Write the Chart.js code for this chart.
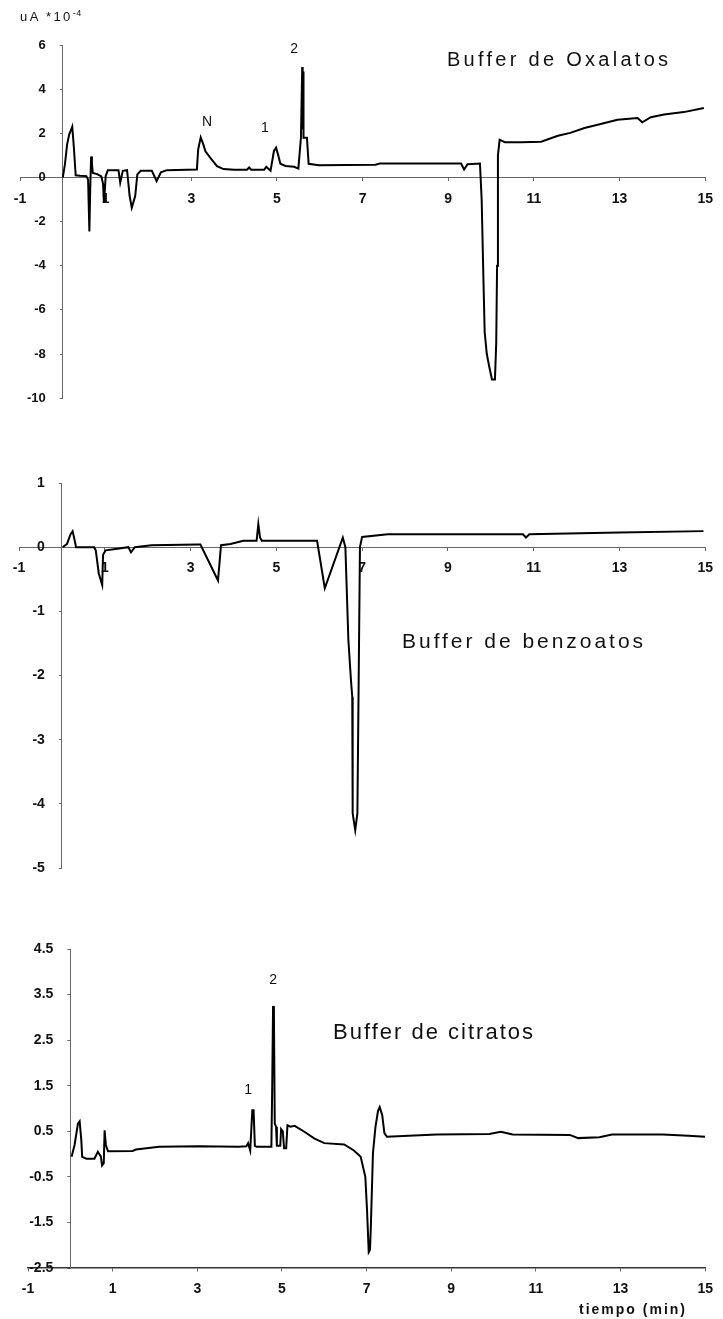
<!DOCTYPE html>
<html><head><meta charset="utf-8">
<script src="https://cdn.jsdelivr.net/npm/chart.js@4.4.1/dist/chart.umd.min.js"></script>
<style>
html,body{margin:0;padding:0;background:#fff;}
body{width:723px;height:1319px;position:relative;overflow:hidden;font-family:"Liberation Sans",Arial,sans-serif;}
canvas{position:absolute;left:0;}
.lbl{position:absolute;white-space:nowrap;color:#111;line-height:1;z-index:2;}
</style></head><body>
<canvas id="c1" width="723" height="420" style="top:0px"></canvas>
<canvas id="c2" width="723" height="480" style="top:420px"></canvas>
<canvas id="c3" width="723" height="419" style="top:900px"></canvas>
<div class="lbl" style="left:20px;top:10px;font-size:13px;letter-spacing:2.4px;">uA *10<sup style="font-size:9px;vertical-align:5px;line-height:0;letter-spacing:0.5px">-4</sup></div>
<div class="lbl fit" data-w="221" style="left:447px;top:49px;font-size:20px;">Buffer de Oxalatos</div>
<div class="lbl fit" data-w="241" style="left:402px;top:630px;font-size:21px;">Buffer de benzoatos</div>
<div class="lbl fit" data-w="200" style="left:333px;top:1021px;font-size:22px;">Buffer de citratos</div>
<div class="lbl fit" data-w="106" style="left:579px;top:1302px;font-size:14px;font-weight:bold;">tiempo (min)</div>
<script>
// ---------- data ----------
const timeTicks = [-1, 1, 3, 5, 7, 9, 11, 13, 15];

const oxYTicks = [-10, -8, -6, -4, -2, 0, 2, 4, 6];
const oxTime = [
  0, 0.05, 0.1, 0.15, 0.18, 0.22, 0.26, 0.3, 0.4, 0.55,
  0.59, 0.62, 0.64, 0.66, 0.68, 0.7, 0.8, 0.9, 0.94, 0.96,
  0.98, 1.0, 1.05, 1.3, 1.34, 1.4, 1.5, 1.56, 1.61, 1.69,
  1.74, 1.82, 2.08, 2.19, 2.29, 2.43, 3.13, 3.16, 3.22, 3.28,
  3.33, 3.45, 3.6, 3.75, 4.0, 4.3, 4.35, 4.4, 4.7, 4.75,
  4.85, 4.93, 4.98, 5.03, 5.08, 5.2, 5.4, 5.5, 5.56, 5.59,
  5.6, 5.61, 5.62, 5.65, 5.7, 5.74, 5.98, 7.3, 7.4, 9.3,
  9.37, 9.45, 9.74, 9.78, 9.82, 9.85, 9.9, 9.96, 10.02, 10.09,
  10.12, 10.14, 10.16, 10.2, 10.32, 10.7, 11.17, 11.56, 11.85, 12.18,
  12.49, 12.95, 13.42, 13.53, 13.73, 14.04, 14.5, 14.97
];
const oxSignal = [
  0, 0.6, 1.5, 1.95, 2.1, 2.3, 1.3, 0.1, 0.08, 0.06,
  -0.1, -2.45, -0.5, 0.95, 0.6, 0.2, 0.15, 0.05, -0.3, -1.15,
  -0.6, 0.06, 0.33, 0.33, -0.24, 0.3, 0.33, -0.84, -1.37, -0.84,
  0.14, 0.3, 0.3, -0.17, 0.23, 0.33, 0.36, 1.26, 1.82, 1.5,
  1.18, 0.88, 0.51, 0.38, 0.35, 0.35, 0.45, 0.35, 0.35, 0.48,
  0.3, 1.2, 1.35, 1.0, 0.62, 0.52, 0.48, 0.4, 1.8, 5.0,
  2.2, 4.8, 1.8, 1.8, 1.8, 0.62, 0.55, 0.58, 0.63, 0.63,
  0.36, 0.6, 0.63, -1.0, -4.5, -7.0, -8.0, -8.6, -9.15, -9.15,
  -7.5, -4.0, 1.0, 1.71, 1.6, 1.6, 1.62, 1.89, 2.02, 2.24,
  2.39, 2.61, 2.69, 2.5, 2.73, 2.85, 2.96, 3.15
];
const oxPeakNames = ['N', '1', '2'];
const oxPeakTime = [3.37, 4.72, 5.4];
const oxPeakSignal = [2.52, 2.25, 5.8];

const bzYTicks = [-5, -4, -3, -2, -1, 0, 1];
const bzTime = [
  0.02, 0.12, 0.2, 0.25, 0.3, 0.33, 0.75, 0.79, 0.86, 0.94,
  0.96, 1.02, 1.25, 1.55, 1.61, 1.7, 2.09, 3.16, 3.23, 3.64,
  3.71, 3.93, 4.23, 4.54, 4.58, 4.62, 4.66, 5.95, 6.13, 6.55,
  6.61, 6.68, 6.74, 6.77, 6.78, 6.84, 6.89, 6.92, 6.95, 7.0,
  7.6, 10.75, 10.82, 10.9, 13.0, 14.96
];
const bzSignal = [
  0.0, 0.05, 0.2, 0.25, 0.1, 0.0, 0.0, -0.05, -0.41, -0.59,
  -0.12, -0.05, -0.03, 0.0, -0.08, 0.0, 0.03, 0.04, 0.04, -0.52,
  0.03, 0.05, 0.1, 0.1, 0.36, 0.15, 0.1, 0.1, -0.64, 0.15,
  0.0, -1.45, -2.07, -2.33, -4.15, -4.41, -4.15, -2.07, 0.0, 0.16,
  0.2, 0.2, 0.15, 0.2, 0.23, 0.25
];

const ciYTicks = [-2.5, -1.5, -0.5, 0.5, 1.5, 2.5, 3.5, 4.5];
const ciTime = [
  0.03, 0.1, 0.18, 0.22, 0.26, 0.28, 0.38, 0.57, 0.65, 0.72,
  0.75, 0.79, 0.81, 0.84, 0.89, 1.47, 1.55, 2.1, 3.03, 3.97,
  4.16, 4.2, 4.25, 4.3, 4.33, 4.36, 4.4, 4.75, 4.77, 4.79,
  4.81, 4.83, 4.86, 4.88, 4.96, 4.98, 5.02, 5.05, 5.1, 5.13,
  5.2, 5.3, 5.53, 5.77, 6.0, 6.47, 6.7, 6.86, 6.97, 7.01,
  7.05, 7.08, 7.1, 7.15, 7.21, 7.27, 7.31, 7.37, 7.42, 7.48,
  8.65, 9.9, 10.17, 10.45, 11.8, 12.0, 12.5, 12.8, 14.0, 14.6,
  15.0
];
const ciSignal = [
  -0.06, 0.2, 0.67, 0.72, 0.3, -0.06, -0.1, -0.1, 0.05, -0.05,
  -0.25, -0.2, 0.52, 0.2, 0.06, 0.07, 0.1, 0.16, 0.17, 0.16,
  0.17, 0.24, 0.08, 0.96, 0.96, 0.18, 0.16, 0.16, 1.5, 3.25,
  3.1, 0.67, 0.6, 0.18, 0.18, 0.55, 0.5, 0.13, 0.13, 0.63,
  0.6, 0.62, 0.49, 0.34, 0.24, 0.21, 0.08, -0.06, -0.5, -1.23,
  -2.15, -2.1, -1.6, 0.02, 0.6, 0.95, 1.03, 0.85, 0.46, 0.38,
  0.43, 0.44, 0.49, 0.43, 0.42, 0.35, 0.37, 0.43, 0.43, 0.4,
  0.38
];
const ciPeakNames = ['1', '2'];
const ciPeakTime = [4.2, 4.79];
const ciPeakSignal = [1.4, 3.81];

// ---------- drawing ----------
const FONT = '"Liberation Sans", Arial, sans-serif';

const peakLabels = {
  id: 'peakLabels',
  afterDatasetsDraw(chart, args, opts) {
    if (!opts.names) return;
    const {ctx} = chart;
    const xs = chart.scales.x, ys = chart.scales.y;
    ctx.save();
    ctx.font = '14px ' + FONT;
    ctx.fillStyle = '#111';
    ctx.textAlign = 'center';
    ctx.textBaseline = 'middle';
    opts.names.forEach((n, i) => {
      ctx.fillText(n, xs.getPixelForValue(opts.xs[i]), ys.getPixelForValue(opts.ys[i]));
    });
    ctx.restore();
  }
};

// put the vertical axis where the time scale is 0 (axes cross at the origin)
const crossAtZero = {
  id: 'crossAtZero',
  afterLayout(chart) {
    const ys = chart.scales.y;
    const px = chart.scales.x.getPixelForValue(0);
    ys.left = 0;
    ys.right = px;
    ys.width = px;
  }
};

function makeChart(id, times, values, yTicks, xAxisAt, pad, yFont, border3, peaks) {
  const pts = times.map((t, i) => ({x: t, y: values[i]}));
  const axisBorder = border3 || {color: '#666', width: 1, dash: [6, 2, 1, 2]};
  new Chart(document.getElementById(id), {
    type: 'line',
    data: {datasets: [{data: pts, borderColor: '#000', borderWidth: 2, pointRadius: 0, tension: 0, fill: false}]},
    options: {
      responsive: false, animation: false, devicePixelRatio: 1,
      layout: {padding: pad},
      plugins: {legend: {display: false}, tooltip: {enabled: false}, peakLabels: peaks || {}},
      scales: {
        x: {
          type: 'linear', min: -1, max: 15,
          position: {y: xAxisAt},
          afterBuildTicks: s => { s.ticks = timeTicks.map(v => ({value: v})); },
          afterFit: s => { s.height = 0; },
          grid: {display: true, drawOnChartArea: false, drawTicks: true, tickLength: 3, color: '#666'},
          border: axisBorder,
          ticks: {autoSkip: false, maxRotation: 0, padding: 10, color: '#111',
                  font: {family: FONT, size: 14, weight: 'bold'}, callback: v => String(v)}
        },
        y: {
          type: 'linear', min: yTicks[0], max: yTicks[yTicks.length - 1],
          position: 'left',
          afterBuildTicks: s => { s.ticks = yTicks.map(v => ({value: v})); },
          afterFit: s => { s.width = 0; },
          grid: {display: true, drawOnChartArea: false, drawTicks: true, tickLength: 3, color: '#666'},
          border: {color: '#666', width: 1, dash: [6, 2, 1, 2]},
          ticks: {autoSkip: false, padding: 14, color: '#111',
                  font: {family: FONT, size: yFont, weight: 'bold'}, callback: v => String(v)}
        }
      }
    },
    plugins: [peakLabels, crossAtZero]
  });
}

makeChart('c1', oxTime, oxSignal, oxYTicks, 0,
  {left: 20, right: 15, top: 45, bottom: 21}, 13, null,
  {names: oxPeakNames, xs: oxPeakTime, ys: oxPeakSignal});
makeChart('c2', bzTime, bzSignal, bzYTicks, 0,
  {left: 19, right: 8, top: 63, bottom: 32}, 14, null, null);
makeChart('c3', ciTime, ciSignal, ciYTicks, -2.5,
  {left: 28, right: 12, top: 49, bottom: 51}, 14,
  {color: '#333', width: 1.5, dash: [9, 2, 2, 2]},
  {names: ciPeakNames, xs: ciPeakTime, ys: ciPeakSignal});

// stretch the spaced-out titles to their widths
document.querySelectorAll('.fit').forEach(el => {
  el.style.letterSpacing = '0px';
  const natural = el.getBoundingClientRect().width;
  const n = el.textContent.length;
  const target = parseFloat(el.dataset.w);
  el.style.letterSpacing = ((target - natural) / (n - 1)).toFixed(2) + 'px';
});
</script>
</body></html>
